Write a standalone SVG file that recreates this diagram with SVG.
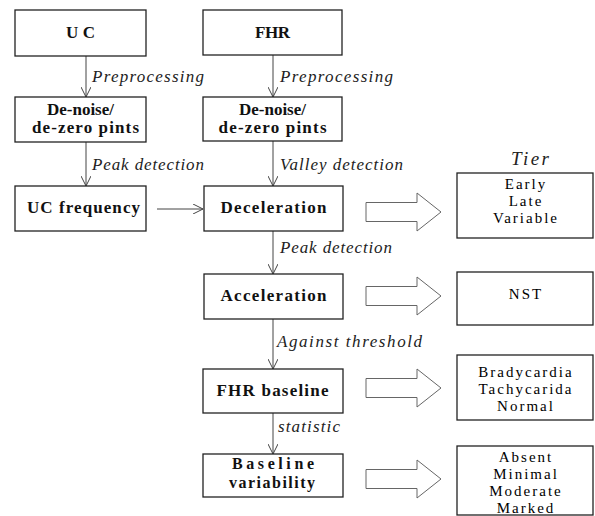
<svg xmlns="http://www.w3.org/2000/svg" width="595" height="516" viewBox="0 0 595 516">
<style>
.box{fill:#fff;stroke:#222;stroke-width:1.3}
.nt{font-family:"Liberation Serif",serif;font-weight:bold;font-size:17px;fill:#111;text-anchor:middle}
.rt{font-family:"Liberation Serif",serif;font-size:15px;fill:#000;text-anchor:middle;letter-spacing:2px}
.lb{font-family:"Liberation Serif",serif;font-style:italic;font-size:17px;fill:#222}
.cn{stroke:#444;stroke-width:1;fill:none}
.fat{fill:#fff;stroke:#666;stroke-width:1}
</style>
<defs>
<marker id="ah" viewBox="0 0 10 10" refX="10" refY="5" markerWidth="10" markerHeight="10" markerUnits="userSpaceOnUse" orient="auto">
<path d="M0,0 L10,5 L0,10" fill="none" stroke="#444" stroke-width="1"/>
</marker>
<path id="fatArrow" d="M0,-9.5 H51 V-19 L75,0 L51,19 V9.5 H0 Z"/>
</defs>

<g id="connectors">
<line class="cn" x1="86" y1="56" x2="86" y2="97" marker-end="url(#ah)"/>
<line class="cn" x1="86" y1="142" x2="86" y2="186" marker-end="url(#ah)"/>
<line class="cn" x1="273" y1="55" x2="273" y2="97" marker-end="url(#ah)"/>
<line class="cn" x1="273" y1="141" x2="273" y2="186" marker-end="url(#ah)"/>
<line class="cn" x1="157" y1="209" x2="203" y2="209" marker-end="url(#ah)"/>
<line class="cn" x1="273" y1="231" x2="273" y2="274" marker-end="url(#ah)"/>
<line class="cn" x1="273" y1="319" x2="273" y2="369" marker-end="url(#ah)"/>
<line class="cn" x1="273" y1="413" x2="273" y2="454" marker-end="url(#ah)"/>
<text class="lb" x="92" y="82" textLength="112" lengthAdjust="spacing">Preprocessing</text>
<text class="lb" x="280" y="82" textLength="113" lengthAdjust="spacing">Preprocessing</text>
<text class="lb" x="92" y="170" textLength="112" lengthAdjust="spacing">Peak detection</text>
<text class="lb" x="280" y="170" textLength="123" lengthAdjust="spacing">Valley detection</text>
<text class="lb" x="280" y="253" textLength="112" lengthAdjust="spacing">Peak detection</text>
<text class="lb" x="277" y="347" textLength="145" lengthAdjust="spacing">Against threshold</text>
<text class="lb" x="278" y="432" textLength="62" lengthAdjust="spacing">statistic</text>
<use href="#fatArrow" class="fat" x="366" y="212"/>
<use href="#fatArrow" class="fat" x="366" y="296"/>
<use href="#fatArrow" class="fat" x="366" y="388"/>
<use href="#fatArrow" class="fat" x="366" y="479"/>
</g>

<g id="uc"><rect class="box" x="15" y="10" width="131" height="46"/><text class="nt" x="80.5" y="38" textLength="29" lengthAdjust="spacing">UC</text></g>
<g id="fhr"><rect class="box" x="203" y="10" width="139" height="45"/><text class="nt" x="272.5" y="38" textLength="35" lengthAdjust="spacing">FHR</text></g>
<g id="denoise-uc"><rect class="box" x="15" y="97" width="131" height="45"/><text class="nt" x="80.5" y="115" textLength="67" lengthAdjust="spacing">De-noise/</text><text class="nt" x="85.5" y="133" textLength="107" lengthAdjust="spacing">de-zero pints</text></g>
<g id="denoise-fhr"><rect class="box" x="203" y="97" width="139" height="44"/><text class="nt" x="272.5" y="115" textLength="67" lengthAdjust="spacing">De-noise/</text><text class="nt" x="272.5" y="133" textLength="108" lengthAdjust="spacing">de-zero pints</text></g>
<g id="ucfreq"><rect class="box" x="15" y="186" width="131" height="45"/><text class="nt" x="83.5" y="213" textLength="113" lengthAdjust="spacing">UC frequency</text></g>
<g id="decel"><rect class="box" x="204" y="186" width="139" height="45"/><text class="nt" x="273.5" y="213" textLength="106" lengthAdjust="spacing">Deceleration</text></g>
<g id="accel"><rect class="box" x="204" y="274" width="139" height="45"/><text class="nt" x="273.5" y="301" textLength="106" lengthAdjust="spacing">Acceleration</text></g>
<g id="baseline"><rect class="box" x="203" y="369" width="140" height="44"/><text class="nt" x="272.5" y="396" textLength="112" lengthAdjust="spacing">FHR baseline</text></g>
<g id="variability"><rect class="box" x="203" y="454" width="140" height="43"/><text class="nt" x="273" y="469" style="font-size:16px" textLength="82" lengthAdjust="spacing">Baseline</text><text class="nt" x="272" y="488" style="font-size:16px" textLength="86" lengthAdjust="spacing">variability</text></g>

<g id="tier"><text class="lb" x="530" y="165" text-anchor="middle" style="font-size:19px" textLength="38" lengthAdjust="spacing">Tier</text></g>
<g id="decel-types"><rect class="box" x="457" y="173" width="136" height="65"/><text class="rt" x="526" y="189">Early</text><text class="rt" x="526" y="206">Late</text><text class="rt" x="526" y="223">Variable</text></g>
<g id="nst"><rect class="box" x="457" y="272" width="136" height="53"/><text class="rt" x="526" y="299">NST</text></g>
<g id="baseline-types"><rect class="box" x="457" y="355" width="136" height="65"/><text class="rt" x="526" y="377">Bradycardia</text><text class="rt" x="526" y="394">Tachycarida</text><text class="rt" x="526" y="411">Normal</text></g>
<g id="variability-types"><rect class="box" x="457" y="446" width="136" height="69"/><text class="rt" x="526" y="462">Absent</text><text class="rt" x="526" y="479">Minimal</text><text class="rt" x="526" y="496">Moderate</text><text class="rt" x="526" y="513">Marked</text></g>
</svg>
